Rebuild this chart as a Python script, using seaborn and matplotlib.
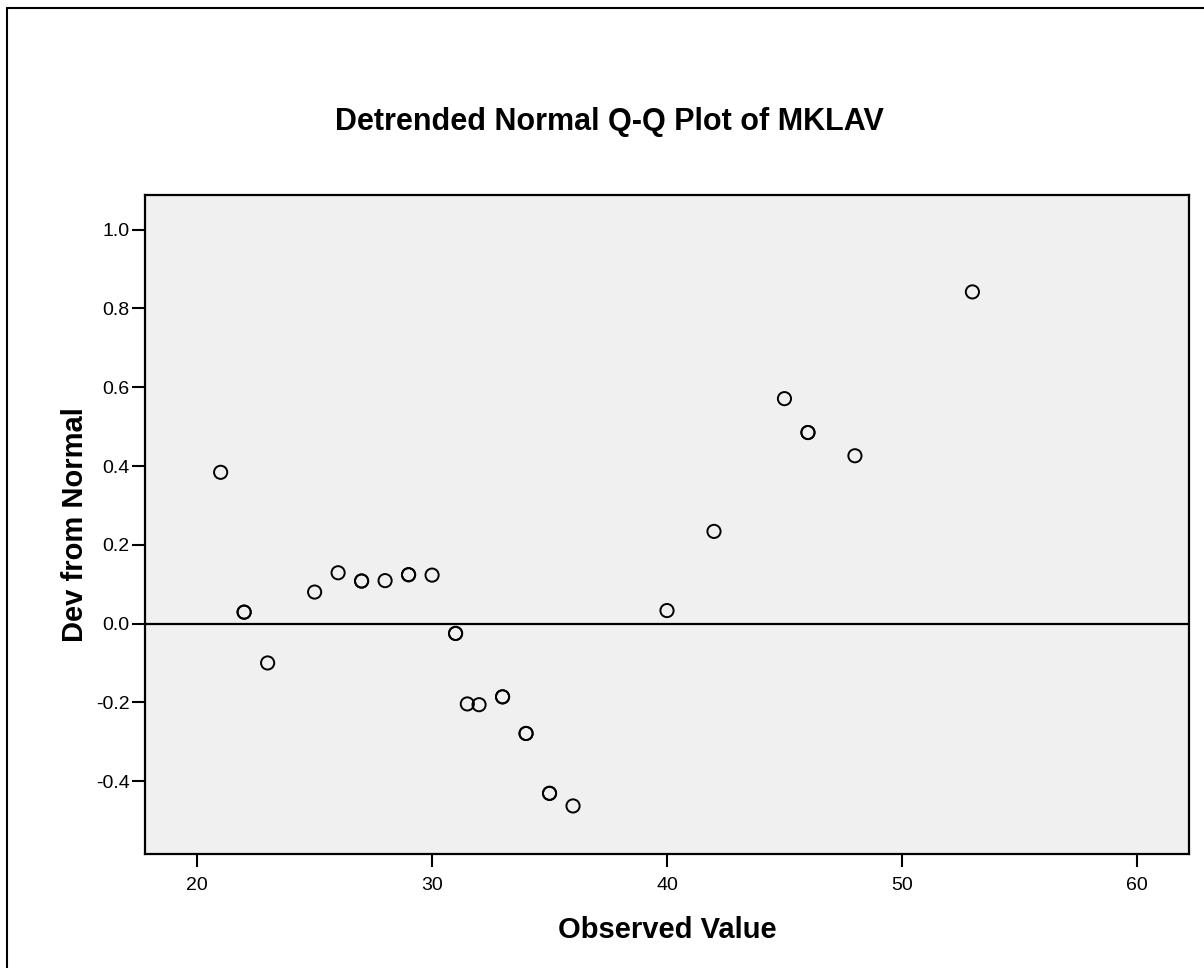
import numpy as np
import pandas as pd
import matplotlib
matplotlib.use("Agg")
import matplotlib.pyplot as plt
import seaborn as sns

# Detrended normal Q-Q plot of MKLAV
observed = [21, 22, 23, 25, 26, 27, 28, 29, 30, 31, 31.5, 32, 33, 34, 35, 36,
            40, 42, 45, 46, 48, 53]
dev_from_normal = [0.384, 0.029, -0.100, 0.080, 0.129, 0.108, 0.109, 0.124, 0.123,
                   -0.025, -0.204, -0.206, -0.186, -0.279, -0.431, -0.463,
                   0.033, 0.234, 0.571, 0.485, 0.426, 0.842]
# number of cases at each point (ties are drawn on top of each other)
n_cases = [1, 2, 1, 1, 1, 2, 1, 2, 1, 2, 1, 1, 2, 2, 2, 1, 1, 1, 1, 2, 1, 1]

x_ticks = [20, 30, 40, 50, 60]
y_ticks = [-0.4, -0.2, 0.0, 0.2, 0.4, 0.6, 0.8, 1.0]

df = pd.DataFrame({
    "Observed Value": np.repeat(observed, n_cases),
    "Dev from Normal": np.repeat(dev_from_normal, n_cases),
})

sns.set_theme(style="ticks")
plt.rcParams["font.family"] = ["Liberation Sans", "DejaVu Sans"]
plt.rcParams["text.color"] = "black"
plt.rcParams["axes.labelcolor"] = "black"

fig = plt.figure(figsize=(12.04, 9.68), dpi=100)
ax = fig.add_axes([145 / 1204, 1 - 854 / 968, (1189 - 145) / 1204, (854 - 195) / 968])
ax.set_facecolor("#f0f0f0")

ax.axhline(0, color="black", lw=1.6, zorder=1)
sns.scatterplot(data=df, x="Observed Value", y="Dev from Normal", ax=ax,
                marker="o", s=90, facecolor="none", edgecolor="black",
                linewidth=1.4, zorder=3)

ax.set_xlim(17.78, 62.22)
ax.set_ylim(-0.585, 1.088)
ax.set_xticks(x_ticks)
ax.set_yticks(y_ticks)
ax.set_yticklabels([f"{v:.1f}" for v in y_ticks])
ax.tick_params(axis="both", direction="out", length=9.5, width=1.5,
               color="black", labelsize=14, labelcolor="black")
ax.tick_params(axis="y", pad=1.5)
ax.tick_params(axis="x", pad=7)

for sp in ax.spines.values():
    sp.set_visible(True)
    sp.set_color("black")
    sp.set_linewidth(1.6)

ax.set_xlabel("Observed Value", fontsize=21, fontweight="bold", labelpad=16)
ax.set_ylabel("Dev from Normal", fontsize=21, fontweight="bold", labelpad=5)

fig.text(0.506, 1 - 122 / 968, "Detrended Normal Q-Q Plot of MKLAV",
         ha="center", va="center", fontsize=22, fontweight="bold")

# outer frame (top and left edges, as in the source export)
fig.add_artist(plt.Line2D([7 / 1204, 1], [1 - 8 / 968, 1 - 8 / 968],
                          transform=fig.transFigure, color="black", lw=1.5))
fig.add_artist(plt.Line2D([7 / 1204, 7 / 1204], [0, 1 - 8 / 968],
                          transform=fig.transFigure, color="black", lw=1.5))

fig.savefig("out.png", dpi=100)
